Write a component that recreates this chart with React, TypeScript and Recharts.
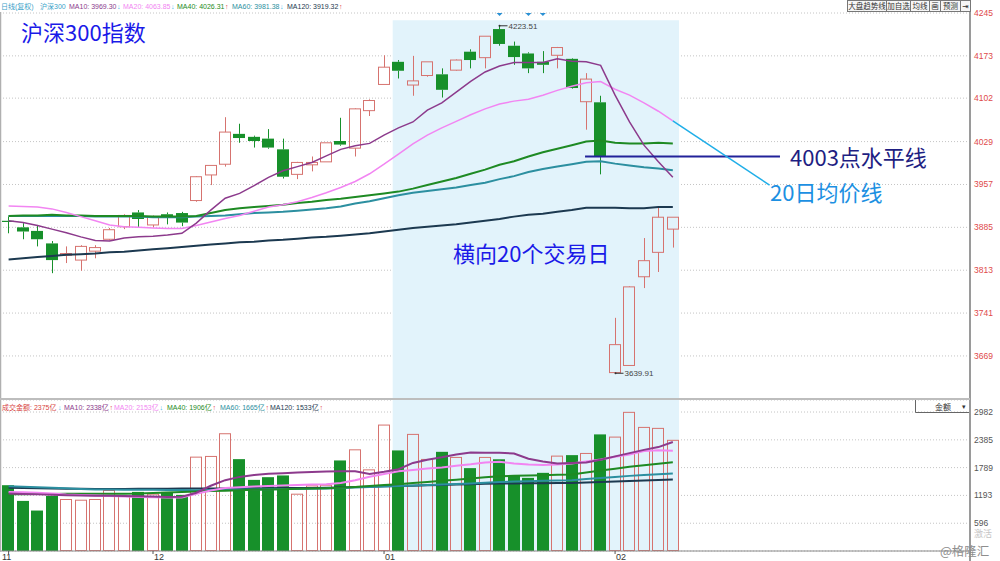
import React from 'react';
import {
  ComposedChart,
  Bar,
  Line,
  XAxis,
  YAxis,
  CartesianGrid,
  ReferenceArea,
  ReferenceLine,
  Scatter,
} from 'recharts';

// ---------------- data ----------------
const days = [
  0, 1, 2, 3, 4, 5, 6, 7, 8, 9, 10, 11, 12, 13, 14, 15, 16, 17, 18, 19, 20, 21, 22, 23,
  24, 25, 26, 27, 28, 29, 30, 31, 32, 33, 34, 35, 36, 37, 38, 39, 40, 41, 42, 43, 44, 45, 46,
];
const opens = [
  3896, 3885, 3879, 3858, 3838, 3830, 3845, 3865, 3886, 3910, 3889, 3907, 3909, 3930, 3973, 3991,
  4042, 4037, 4034, 4016, 3974, 3990, 3995, 4030, 4018, 4081, 4125, 4163, 4124, 4140, 4142, 4149,
  4180, 4170, 4218, 4190, 4177, 4163, 4174, 4168, 4096, 4095, 3641, 3653, 3802, 3843, 3882,
];
const highs = [
  3903, 3892, 3889, 3862, 3853, 3855, 3855, 3884, 3907, 3914, 3905, 3910, 3911, 3971, 3989, 4070,
  4059, 4039, 4050, 4034, 3995, 4004, 4027, 4069, 4085, 4100, 4174, 4166, 4173, 4163, 4152, 4167,
  4184, 4206, 4223.51, 4197, 4179, 4181, 4188, 4169, 4144, 4106, 3733, 3786, 3867, 3918, 3902,
];
const lows = [
  3875, 3865, 3853, 3808, 3825, 3812, 3833, 3863, 3882, 3884, 3885, 3890, 3887, 3928, 3956, 3987,
  4027, 4019, 4017, 3967, 3966, 3979, 3995, 4022, 4004, 4072, 4125, 4135, 4106, 4138, 4103, 4148,
  4152, 4152, 4190, 4158, 4144, 4144, 4152, 4118, 4049, 3974, 3639.91, 3653, 3783, 3810, 3851,
];
const closes = [
  3894, 3878, 3865, 3830, 3841, 3853, 3851, 3881, 3905, 3899, 3902, 3903, 3893, 3970, 3989, 4045,
  4035, 4030, 4019, 3970, 3994, 3994, 4027, 4024, 4084, 4098, 4154, 4148, 4131, 4163, 4116, 4166,
  4166, 4206, 4193, 4171, 4152, 4158, 4187, 4119, 4134, 4004, 3688, 3785, 3829, 3902, 3902,
];
const priceMA10 = [
  3896, 3893, 3888, 3882, 3876, 3869, 3863, 3862, 3867, 3869, 3870, 3872, 3875, 3892, 3914, 3934,
  3942, 3955, 3969, 3980, 3987, 3994, 4005, 4016, 4022, 4026, 4040, 4052, 4062, 4082, 4094, 4112,
  4130, 4146, 4156, 4162, 4162, 4162, 4168, 4164, 4163, 4157, 4107, 4062, 4023, 3995, 3969,
];
const priceMA20 = [
  3921, 3920, 3919, 3916, 3910, 3903, 3896, 3889, 3886, 3885, 3884, 3883, 3883, 3888, 3894, 3900,
  3905, 3912, 3919, 3923, 3928, 3935, 3943, 3952, 3962, 3975, 3991, 4008, 4025, 4040, 4052, 4063,
  4074, 4084, 4092, 4097, 4100, 4107, 4115, 4122, 4128, 4130, 4117, 4107, 4094, 4080, 4064,
];
const priceMA40 = [
  3904, 3905, 3905, 3906, 3905, 3905, 3904, 3904, 3904, 3904, 3903, 3903, 3903, 3904, 3909, 3914,
  3917, 3919, 3921, 3923, 3926, 3928, 3931, 3933, 3936, 3939, 3942, 3945, 3950, 3956, 3962, 3968,
  3975, 3982, 3990, 3996, 4004, 4011, 4017, 4023, 4029, 4031, 4027, 4026, 4026, 4027, 4026,
];
const priceMA60 = [
  3904, 3904, 3904, 3904, 3904, 3904, 3903, 3903, 3903, 3903, 3902, 3902, 3902, 3903, 3904, 3905,
  3907, 3909, 3910, 3911, 3913, 3915, 3917, 3920, 3925, 3929, 3934, 3939, 3943, 3946, 3949, 3952,
  3956, 3960, 3966, 3971, 3978, 3983, 3987, 3991, 3995, 3996, 3992, 3989, 3986, 3984, 3981,
];
const priceMA120 = [
  3831, 3833, 3835, 3837, 3839, 3840, 3841, 3843, 3844, 3846, 3848, 3850, 3852, 3854, 3856, 3858,
  3860, 3861, 3863, 3864, 3866, 3868, 3869, 3871, 3873, 3875, 3878, 3881, 3884, 3886, 3888, 3890,
  3893, 3896, 3899, 3903, 3906, 3908, 3911, 3914, 3918, 3918, 3918, 3917, 3917, 3919, 3919,
];
const volumes = [
  1412, 1075, 868, 1183, 1105, 1090, 1105, 1298, 1176, 1268, 1219, 1268, 1204, 2014, 2029, 2516,
  1971, 1526, 1584, 1621, 1219, 1397, 1412, 1943, 2171, 1741, 2702, 2158, 2502, 1965, 2128, 2008,
  1778, 2008, 1968, 1627, 1569, 1677, 2036, 2057, 2093, 2502, 2444, 2975, 2652, 2631, 2375,
];
const volMA10 = [
  1233, 1225, 1215, 1205, 1197, 1192, 1188, 1184, 1180, 1176, 1170, 1161, 1165, 1250, 1400, 1520,
  1590, 1630, 1655, 1670, 1685, 1695, 1705, 1710, 1713, 1655, 1700, 1756, 1890, 1960, 2010, 2070,
  2115, 2110, 2110, 2093, 1980, 1920, 1879, 1890, 1900, 1960, 2030, 2100, 2170, 2230, 2338,
];
const volMA20 = [
  1268, 1260, 1248, 1235, 1212, 1200, 1190, 1180, 1170, 1161, 1155, 1150, 1148, 1230, 1300, 1350,
  1370, 1385, 1397, 1405, 1415, 1425, 1434, 1460, 1520, 1591, 1650, 1713, 1740, 1770, 1793, 1830,
  1860, 1900, 1915, 1880, 1855, 1843, 1855, 1879, 1920, 1965, 2020, 2070, 2143, 2160, 2153,
];
const volMA40 = [
  1219, 1220, 1222, 1224, 1226, 1228, 1229, 1230, 1231, 1233, 1245, 1255, 1265, 1275, 1285, 1295,
  1305, 1312, 1320, 1327, 1334, 1341, 1348, 1355, 1375, 1395, 1415, 1434, 1458, 1482, 1506, 1530,
  1556, 1580, 1606, 1613, 1620, 1627, 1634, 1642, 1685, 1725, 1765, 1806, 1840, 1873, 1906,
];
const volMA60 = [
  1391, 1380, 1368, 1356, 1344, 1332, 1320, 1318, 1316, 1314, 1312, 1310, 1308, 1305, 1309, 1313,
  1317, 1321, 1325, 1329, 1333, 1337, 1340, 1351, 1362, 1373, 1384, 1395, 1406, 1417, 1428, 1438,
  1449, 1466, 1483, 1490, 1498, 1505, 1512, 1520, 1543, 1566, 1589, 1612, 1630, 1647, 1665,
];
const volMA120 = [
  1355, 1350, 1346, 1342, 1338, 1334, 1330, 1332, 1333, 1335, 1336, 1337, 1339, 1340, 1342, 1343,
  1345, 1347, 1348, 1350, 1352, 1353, 1355, 1363, 1371, 1379, 1387, 1394, 1402, 1410, 1418, 1426,
  1434, 1441, 1449, 1451, 1453, 1455, 1458, 1460, 1471, 1482, 1493, 1504, 1515, 1525, 1533,
];
const priceTicks = [4245, 4173, 4102, 4029, 3957, 3885, 3813, 3741, 3669];
const volTicks = [2982, 2385, 1789, 1193, 596];
const monthTickDays = [0, 10, 26, 42];
const monthLabels = ['11', '12', '01', '02'];
const markerDays = [34, 36, 37];
const levelLine = 4004; // 4003点水平线

// ---------------- styles ----------------
const UP = '#D6736F';
const DOWN = '#17902A';
const C_MA10 = '#8C3A8C';
const C_MA20 = '#F285F2';
const C_MA40 = '#1E8A23';
const C_MA60 = '#2C8FA0';
const C_MA120 = '#1C3950';
const SHADE = '#E2F3FB';
const X_DOMAIN: [number, number] = [-0.596, 66.58];
const NUM_FONT = 'Liberation Sans, Arial, sans-serif';
const CJK_FONT = '"Noto Sans CJK SC", "Noto Sans", sans-serif';

const priceRows = days.map((d, k) => ({
  i: d,
  range: [lows[k], highs[k]],
  o: opens[k],
  h: highs[k],
  l: lows[k],
  c: closes[k],
  ma10: priceMA10[k],
  ma20: priceMA20[k],
  ma40: priceMA40[k],
  ma60: priceMA60[k],
  ma120: priceMA120[k],
}));
const maxHigh = Math.max(...highs);
const minLow = Math.min(...lows);

const volRows = days.map((d, k) => ({
  i: d,
  v: volumes[k],
  up: closes[k] >= opens[k],
  ma10: volMA10[k],
  ma20: volMA20[k],
  ma40: volMA40[k],
  ma60: volMA60[k],
  ma120: volMA120[k],
}));
const markerRows = markerDays.map((d) => ({ i: d, mk: priceTicks[0] }));

// ---------------- shapes ----------------
const CandleShape = (props: any) => {
  const { x, y, width, height, payload } = props;
  if (!payload || typeof x !== 'number' || typeof y !== 'number') return null;
  const { o, h, l, c } = payload;
  const top = Math.min(y, y + height);
  const hh = Math.abs(height);
  const span = h - l || 1;
  const py = (v: number) => top + ((h - v) / span) * hh;
  const up = c >= o;
  const col = up ? UP : DOWN;
  const cx = Math.round(x + width / 2) + 0.5;
  const bTop = py(Math.max(o, c));
  const bBot = py(Math.min(o, c));
  const bh = Math.max(bBot - bTop, 1);
  const left = Math.round(x) + 0.5;
  const bw = Math.round(width) - 1;
  return (
    <g>
      <line x1={cx} x2={cx} y1={top} y2={bTop} stroke={col} strokeWidth={1} />
      <line x1={cx} x2={cx} y1={bTop + bh} y2={top + hh} stroke={col} strokeWidth={1} />
      {up ? (
        <rect x={left} y={bTop} width={bw} height={bh} fill="none" stroke={col} strokeWidth={1} />
      ) : (
        <rect x={left - 0.5} y={bTop} width={bw + 1} height={bh} fill={col} />
      )}
      {h === maxHigh && (
        <g>
          <circle cx={cx} cy={top} r={1} fill="#333" />
          <line x1={cx} x2={cx + 8} y1={top} y2={top} stroke="#333" strokeWidth={1} />
          <text x={cx + 9} y={top + 3} fontSize={8} fill="#444" fontFamily={NUM_FONT}>
            {h.toFixed(2)}
          </text>
        </g>
      )}
      {l === minLow && (
        <g>
          <circle cx={cx} cy={top + hh} r={1} fill="#333" />
          <line x1={cx} x2={cx + 8} y1={top + hh} y2={top + hh} stroke="#333" strokeWidth={1} />
          <text x={cx + 9} y={top + hh + 3} fontSize={8} fill="#444" fontFamily={NUM_FONT}>
            {l.toFixed(2)}
          </text>
        </g>
      )}
    </g>
  );
};

const VolShape = (props: any) => {
  const { x, y, width, height, payload } = props;
  if (!payload || typeof x !== 'number') return null;
  const left = Math.round(x) + 0.5;
  const bw = Math.round(width) - 1;
  if (payload.up) {
    return <rect x={left} y={y} width={bw} height={height - 0.5} fill="none" stroke={UP} strokeWidth={1} />;
  }
  return <rect x={left - 0.5} y={y} width={bw + 1} height={height} fill={DOWN} />;
};

const Diamond = (props: any) => {
  const { cx, cy } = props;
  if (typeof cx !== 'number') return null;
  return <path d={`M${cx},${cy - 3}L${cx + 3},${cy}L${cx},${cy + 3}L${cx - 3},${cy}Z`} fill="#2A90D4" />;
};

const PriceTick = (props: any) => {
  const { x, y, payload } = props;
  return (
    <text x={x + 2} y={y + 3} fontSize={8.5} fill="#E04A4A" fontFamily={NUM_FONT}>
      {payload.value}
    </text>
  );
};
const VolTick = (props: any) => {
  const { x, y, payload } = props;
  return (
    <text x={x + 2} y={y + 3} fontSize={8.5} fill="#555" fontFamily={NUM_FONT}>
      {payload.value}
    </text>
  );
};
const MonthTick = (props: any) => {
  const { x, y, payload } = props;
  const k = monthTickDays.indexOf(payload.value);
  const tx = x < 20 ? 2 : x + 1;
  return (
    <text x={tx} y={y + 6} fontSize={9} fill="#333" fontFamily={NUM_FONT}>
      {k >= 0 ? monthLabels[k] : ''}
    </text>
  );
};

// ---------------- legend helpers ----------------
type Seg = { t: string; x: number; c: string };
const LegendRow = ({ segs, y }: { segs: Seg[]; y: number }) => (
  <text y={y} fontSize={7} fontFamily={`${NUM_FONT}, ${CJK_FONT}, DejaVu Sans`}>
    {segs.map((s, k) => (
      <tspan key={k} x={s.x} fill={s.c}>
        {s.t}
      </tspan>
    ))}
  </text>
);

const ARROW_UP = '#E03A3A';
const ARROW_DN = '#2DB6E8';

const topLegend: Seg[] = [
  { t: '日线(复权)', x: 1, c: '#3A9FC8' },
  { t: '沪深300', x: 40, c: '#3A9FC8' },
  { t: 'MA10: 3969.30', x: 69, c: C_MA10 },
  { t: '↓', x: 117, c: ARROW_DN },
  { t: 'MA20: 4063.85', x: 123, c: C_MA20 },
  { t: '↓', x: 171, c: ARROW_DN },
  { t: 'MA40: 4026.31', x: 177, c: C_MA40 },
  { t: '↑', x: 225, c: ARROW_UP },
  { t: 'MA60: 3981.38', x: 232, c: C_MA60 },
  { t: '↓', x: 280, c: ARROW_DN },
  { t: 'MA120: 3919.32', x: 287, c: C_MA120 },
  { t: '↑', x: 339, c: ARROW_UP },
];
const volLegend: Seg[] = [
  { t: '成交金额: 2375亿', x: 2, c: '#D8453F' },
  { t: '↓', x: 58, c: ARROW_DN },
  { t: 'MA10: 2338亿', x: 64, c: C_MA10 },
  { t: '↑', x: 109.5, c: ARROW_UP },
  { t: 'MA20: 2153亿', x: 114, c: C_MA20 },
  { t: '↓', x: 159.5, c: ARROW_DN },
  { t: 'MA40: 1906亿', x: 167, c: C_MA40 },
  { t: '↑', x: 212.5, c: ARROW_UP },
  { t: 'MA60: 1665亿', x: 220, c: C_MA60 },
  { t: '↑', x: 265.5, c: ARROW_UP },
  { t: 'MA120: 1533亿', x: 270, c: C_MA120 },
  { t: '↑', x: 319.5, c: ARROW_UP },
];
const buttons = [
  { t: '大盘趋势线', x: 847, w: 39 },
  { t: '加自选', x: 886, w: 24 },
  { t: '均线', x: 910, w: 19 },
  { t: '画', x: 929, w: 11 },
  { t: '预测', x: 940, w: 20 },
  { t: '⇥', x: 960, w: 10 },
];

export default function App() {
  return (
    <div
      style={{
        position: 'absolute',
        left: 0,
        top: 0,
        width: 1000,
        height: 561,
        overflow: 'hidden',
        background: '#fff',
      }}
    >
      {/* price panel */}
      <div style={{ position: 'absolute', left: 0, top: 0 }}>
        <ComposedChart
          width={1000}
          height={400}
          data={priceRows}
          margin={{ top: 13, right: 0, bottom: 0, left: 0 }}
        >
          <ReferenceArea
            x1={26.6}
            x2={46.43}
            y1={3595}
            y2={4233}
            fill={SHADE}
            fillOpacity={1}
            stroke="none"
            ifOverflow="visible"
          />
          <CartesianGrid horizontal vertical={false} stroke="#C4C4C4" strokeDasharray="1 2" />
          <XAxis dataKey="i" type="number" domain={X_DOMAIN} allowDataOverflow hide />
          <YAxis
            orientation="right"
            width={30}
            domain={[3595, 4245]}
            ticks={priceTicks}
            interval={0}
            allowDataOverflow
            axisLine={false}
            tickLine={false}
            tickSize={0}
            tick={<PriceTick />}
          />
          <Bar dataKey="range" barSize={12} shape={<CandleShape />} isAnimationActive={false} />
          <Line dataKey="ma120" stroke={C_MA120} strokeWidth={2} dot={false} type="linear" isAnimationActive={false} />
          <Line dataKey="ma60" stroke={C_MA60} strokeWidth={2} dot={false} type="linear" isAnimationActive={false} />
          <Line dataKey="ma40" stroke={C_MA40} strokeWidth={2} dot={false} type="linear" isAnimationActive={false} />
          <Line dataKey="ma20" stroke={C_MA20} strokeWidth={1.5} dot={false} type="linear" isAnimationActive={false} />
          <Line dataKey="ma10" stroke={C_MA10} strokeWidth={1.5} dot={false} type="linear" isAnimationActive={false} />
          <Scatter data={markerRows} dataKey="mk" shape={<Diamond />} isAnimationActive={false} />
          <ReferenceLine
            segment={[
              { x: 39.92, y: levelLine },
              { x: 53.42, y: levelLine },
            ]}
            stroke="#22229A"
            strokeWidth={2}
            ifOverflow="visible"
          />
          <ReferenceLine
            segment={[
              { x: 46, y: priceMA20[46] },
              { x: 52.7, y: 3956 },
            ]}
            stroke="#1FAEE8"
            strokeWidth={1.5}
            ifOverflow="visible"
          />
        </ComposedChart>
      </div>

      {/* volume panel */}
      <div style={{ position: 'absolute', left: 0, top: 400 }}>
        <ComposedChart
          width={1000}
          height={161}
          data={volRows}
          margin={{ top: 0, right: 0, bottom: 0, left: 0 }}
        >
          <ReferenceArea
            x1={26.6}
            x2={46.43}
            y1={0}
            y2={3240}
            fill={SHADE}
            fillOpacity={1}
            stroke="none"
            ifOverflow="visible"
          />
          <CartesianGrid horizontal vertical={false} stroke="#C4C4C4" strokeDasharray="1 2" />
          <XAxis
            dataKey="i"
            type="number"
            domain={X_DOMAIN}
            allowDataOverflow
            ticks={monthTickDays}
            interval={0}
            height={10}
            tickSize={3}
            tickMargin={0}
            axisLine={{ stroke: '#8A8A8A' }}
            tickLine={{ stroke: '#555' }}
            tick={<MonthTick />}
          />
          <YAxis
            orientation="right"
            width={30}
            domain={[0, 3240]}
            ticks={volTicks}
            interval={0}
            allowDataOverflow
            axisLine={false}
            tickLine={false}
            tickSize={0}
            tick={<VolTick />}
          />
          <Bar dataKey="v" barSize={12} shape={<VolShape />} isAnimationActive={false} />
          <Line dataKey="ma120" stroke={C_MA120} strokeWidth={2} dot={false} type="linear" isAnimationActive={false} />
          <Line dataKey="ma60" stroke={C_MA60} strokeWidth={2} dot={false} type="linear" isAnimationActive={false} />
          <Line dataKey="ma40" stroke={C_MA40} strokeWidth={2} dot={false} type="linear" isAnimationActive={false} />
          <Line dataKey="ma20" stroke={C_MA20} strokeWidth={2} dot={false} type="linear" isAnimationActive={false} />
          <Line dataKey="ma10" stroke={C_MA10} strokeWidth={2} dot={false} type="linear" isAnimationActive={false} />
        </ComposedChart>
      </div>

      {/* frame + overlay text */}
      <svg
        width={1000}
        height={561}
        style={{ position: 'absolute', left: 0, top: 0, pointerEvents: 'none' }}
      >
        <line x1={970} x2={970} y1={0} y2={561} stroke="#9A9A9A" strokeWidth={2} />
        <line x1={0.5} x2={0.5} y1={12} y2={551} stroke="#B0B0B0" strokeWidth={1.5} />
        <line x1={0} x2={970} y1={399} y2={399} stroke="#BDBDBD" strokeWidth={2} />

        <LegendRow segs={topLegend} y={9} />
        <LegendRow segs={volLegend} y={410} />

        {buttons.map((b, k) => (
          <g key={k}>
            <rect x={b.x + 0.5} y={0.5} width={b.w} height={11} fill="#F6F6F6" stroke="#777" strokeWidth={1} />
            <text
              x={b.x + b.w / 2 + 0.5}
              y={9}
              fontSize={7.5}
              textAnchor="middle"
              fill="#333"
              fontFamily={`${CJK_FONT}, DejaVu Sans`}
            >
              {b.t}
            </text>
          </g>
        ))}

        <path d="M915.5,400 L915.5,412.5 L969,412.5" fill="none" stroke="#666" strokeWidth={1} />
        <text x={935} y={410} fontSize={8} fill="#333" fontFamily={CJK_FONT}>
          金额
        </text>
        <text x={962} y={409} fontSize={7} fill="#333" fontFamily="DejaVu Sans">
          ▾
        </text>

        <text x={21} y={40.5} fontSize={22} fill="#1A1AE8" fontFamily={CJK_FONT}>
          沪深300指数
        </text>
        <text x={790} y={166} fontSize={22} fill="#1E1E82" fontFamily={CJK_FONT}>
          4003点水平线
        </text>
        <text x={770} y={201} fontSize={22} fill="#1C90E2" fontFamily={CJK_FONT}>
          20日均价线
        </text>
        <text x={453} y={262} fontSize={22} fill="#1A1AE8" fontFamily={CJK_FONT}>
          横向20个交易日
        </text>

        <text x={974} y={537} fontSize={9} fill="#C4C4C4" fontFamily={CJK_FONT}>
          激活
        </text>
        <text x={940} y={556} fontSize={12.5} fill="#8E8E8E" fontFamily={CJK_FONT}>
          @格隆汇
        </text>
      </svg>
    </div>
  );
}
